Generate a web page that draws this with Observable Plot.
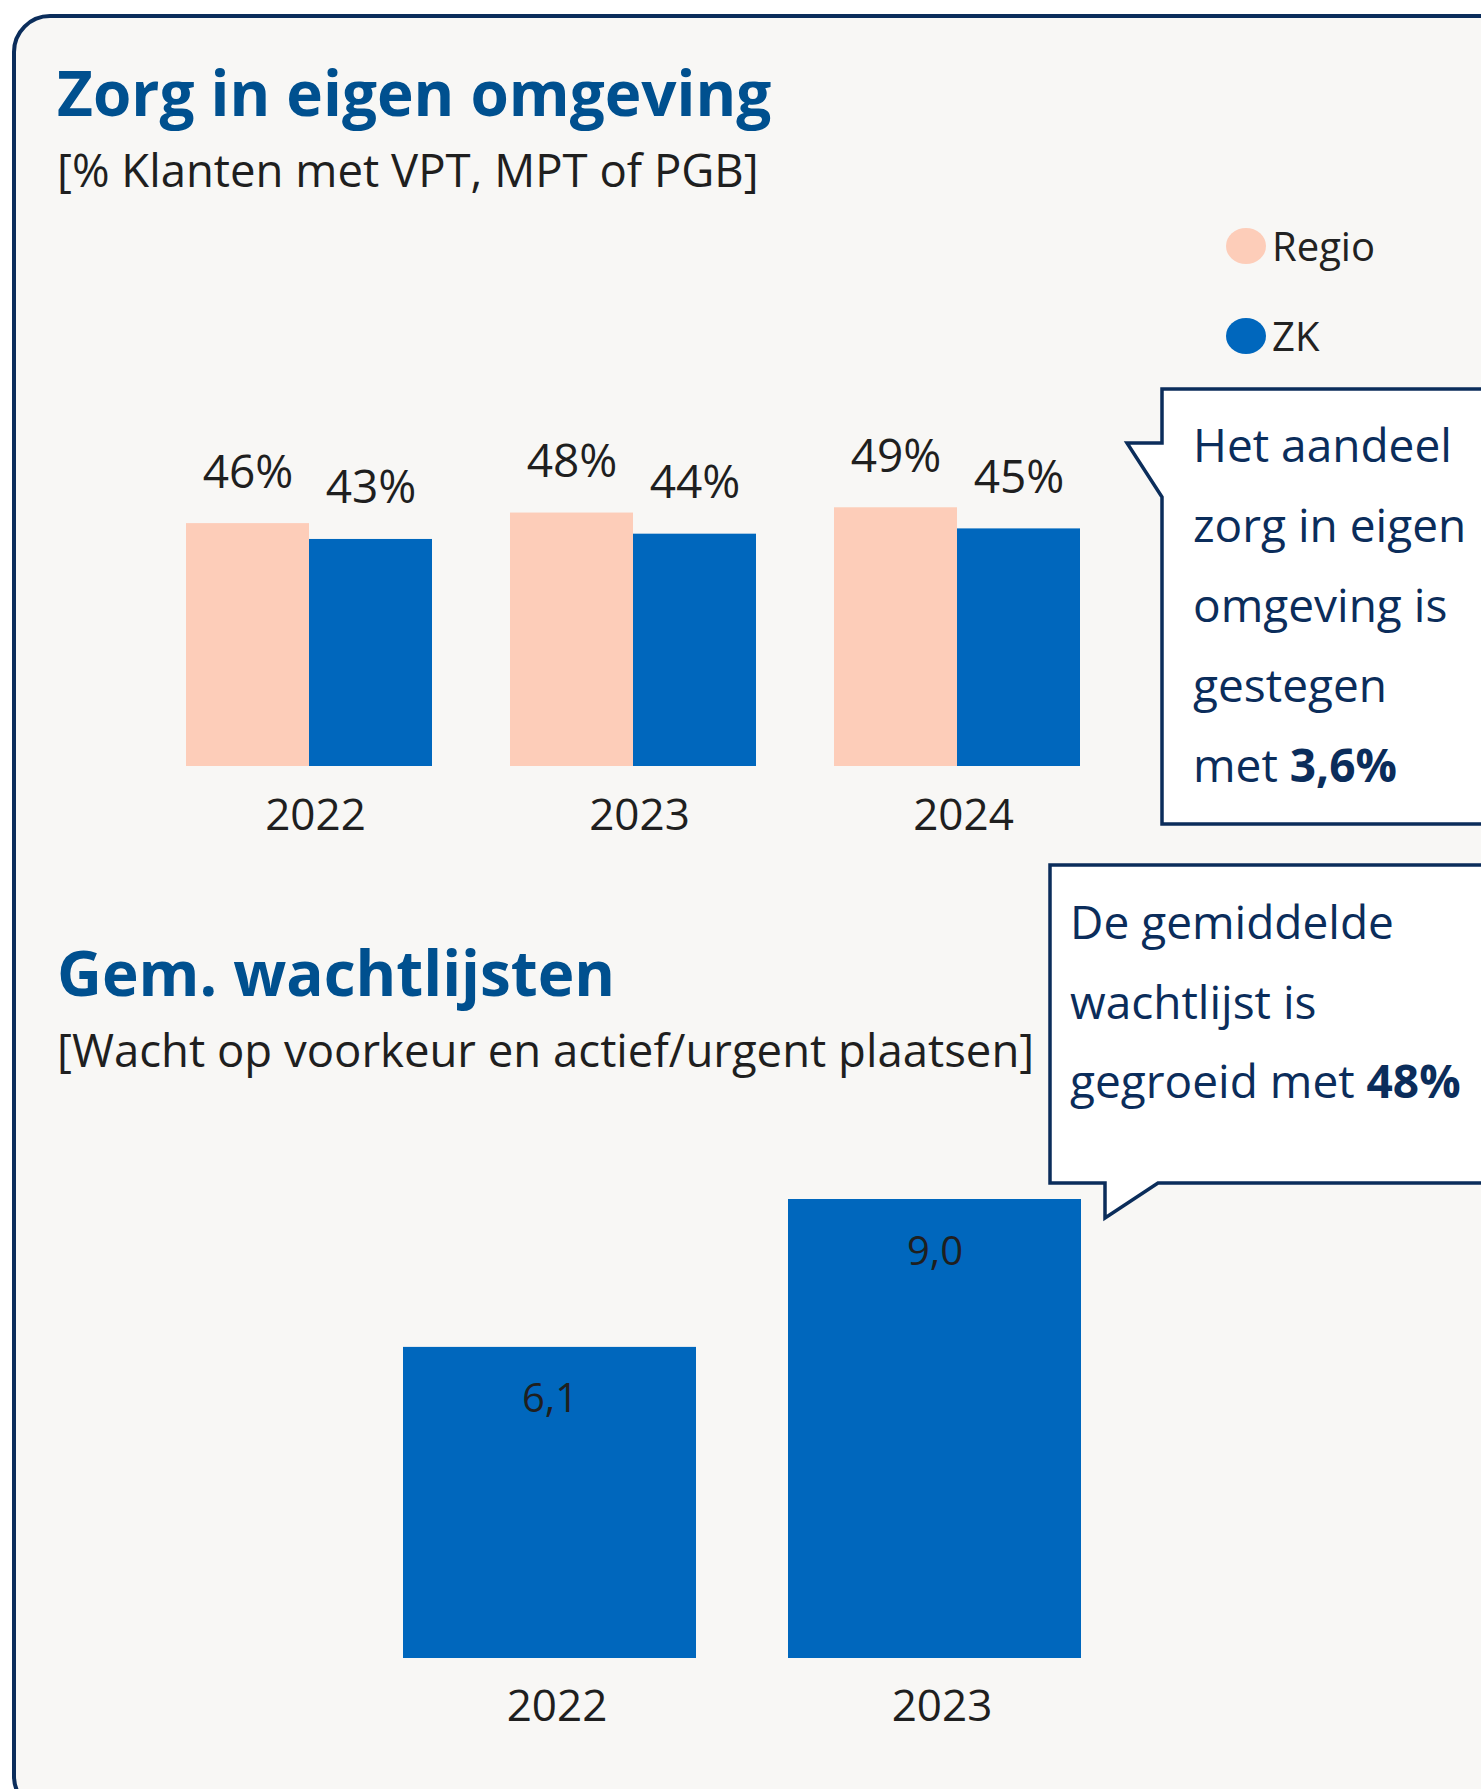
<!DOCTYPE html>
<html>
<head>
<meta charset="utf-8">
<script src="https://cdn.jsdelivr.net/npm/d3@7"></script>
<script src="https://cdn.jsdelivr.net/npm/@observablehq/plot@0.6"></script>
<style>
  html, body { margin: 0; padding: 0; background: #ffffff; }
  body { width: 1481px; height: 1789px; position: relative; overflow: hidden; font-family: "Open Sans", sans-serif; }
  #card { position: absolute; left: 12px; top: 14px; width: 1540px; height: 1800px; box-sizing: border-box;
          border: 4px solid #0b2d5b; border-radius: 38px; background: #f8f7f5; }
  .title { position: absolute; left: 57px; font-weight: 700; color: #00508f; font-size: 62px; line-height: 1; white-space: nowrap; }
  .sub { position: absolute; left: 57px; color: #1f1f1f; font-size: 45.5px; line-height: 1; white-space: nowrap; }
  .chart { position: absolute; }
  .legend { position: absolute; left: 1226px; font-size: 40px; color: #222; line-height: 1; }
  .legend div { position: absolute; white-space: nowrap; display: flex; align-items: center; }
  .legend span.dot { display: inline-block; width: 40px; height: 36px; border-radius: 50%; margin-right: 6px; }
  #overlay { position: absolute; left: 0; top: 0; }
</style>
</head>
<body>
<div id="card"></div>
<div class="title" id="t1" style="top:61px">Zorg in eigen omgeving</div>
<div class="sub" id="s1" style="top:147px">[% Klanten met VPT, MPT of PGB]</div>
<div class="title" id="t2" style="top:941px">Gem. wachtlijsten</div>
<div class="sub" id="s2" style="top:1027px">[Wacht op voorkeur en actief/urgent plaatsen]</div>
<div class="legend" id="legend"></div>
<div class="chart" id="c1" style="left:100px; top:400px"></div>
<div class="chart" id="c2" style="left:100px; top:1150px"></div>
<svg id="overlay" width="1481" height="1789"></svg>
<script>
// ---- data ----
const years1 = ["2022", "2023", "2024"];
const seriesNames = ["Regio", "ZK"];
const regioValues = [46, 48, 49];
const zkValues = [43, 44, 45];
const seriesColors = ["#fdcdb9", "#0067bd"];

const years2 = ["2022", "2023"];
const wachtValues = [6.1, 9.0];
const wachtLabels = ["6,1", "9,0"];

const callout1Lines = [["Het aandeel", ""], ["zorg in eigen", ""], ["omgeving is", ""], ["gestegen", ""], ["met ", "3,6%"]];
const callout2Lines = [["De gemiddelde", ""], ["wachtlijst is", ""], ["gegroeid met ", "48%"]];

// ---- chart 1 ----
const data1 = years1.flatMap((y, i) => [
  {year: y, series: seriesNames[0], value: regioValues[i]},
  {year: y, series: seriesNames[1], value: zkValues[i]}
]);

const chart1 = Plot.plot({
  width: 1100, height: 460,
  marginLeft: 47, marginRight: 81, marginTop: 49.2, marginBottom: 94,
  style: {fontFamily: "Open Sans", background: "transparent", overflow: "visible"},
  fx: {domain: years1, paddingInner: 0.2407, paddingOuter: 0.12035, label: null, axis: null},
  x: {domain: seriesNames, padding: 0, axis: null},
  y: {domain: [0, 60], axis: null},
  color: {domain: seriesNames, range: seriesColors},
  marks: [
    Plot.barY(data1, {fx: "year", x: "series", y: "value", fill: "series"}),
    Plot.text(data1, {fx: "year", x: "series", y: "value", text: d => d.value + "%", dy: -36, lineAnchor: "bottom", fontSize: 46, fill: "#1f1f1f"}),
    Plot.axisFx({anchor: "bottom", tickSize: 0, tickPadding: 32, dx: 6, fontSize: 44, label: null, fill: "#1f1f1f"})
  ]
});
document.getElementById("c1").append(chart1);

// ---- chart 2 ----
const data2 = years2.map((y, i) => ({year: y, value: wachtValues[i], label: wachtLabels[i]}));
const chart2 = Plot.plot({
  width: 1100, height: 600,
  marginLeft: 257, marginRight: 73, marginTop: 23.5, marginBottom: 92,
  style: {fontFamily: "Open Sans", background: "transparent", overflow: "visible"},
  x: {domain: years2, paddingInner: 0.239, paddingOuter: 0.1195, label: null, axis: null},
  y: {domain: [0, 9.5], axis: null},
  marks: [
    Plot.barY(data2, {x: "year", y: "value", fill: seriesColors[1]}),
    Plot.text(data2, {x: "year", y: "value", text: "label", dy: 65, lineAnchor: "bottom", fontSize: 40, fill: "#1f1f1f"}),
    Plot.axisX({anchor: "bottom", tickSize: 0, tickPadding: 31, dx: 7, fontSize: 44, label: null, fill: "#1f1f1f"})
  ]
});
document.getElementById("c2").append(chart2);

// ---- legend ----
const legend = document.getElementById("legend");
seriesNames.forEach((name, i) => {
  const row = document.createElement("div");
  row.style.top = (i === 0 ? 226 : 316) + "px";
  row.innerHTML = `<span class="dot" style="background:${seriesColors[i]}"></span><span>${name}</span>`;
  legend.append(row);
});

// ---- callouts ----
const svg = d3.select("#overlay");
const navy = "#0b2d5b";
svg.append("path")
  .attr("d", "M1500,389 L1162,389 L1162,443 L1127,443 L1162,497 L1162,824 L1500,824")
  .attr("fill", "#ffffff").attr("stroke", navy).attr("stroke-width", 3.5);
svg.append("path")
  .attr("d", "M1500,865 L1050,865 L1050,1183 L1105,1183 L1105,1218 L1158,1183 L1500,1183")
  .attr("fill", "#ffffff").attr("stroke", navy).attr("stroke-width", 3.5);

function writeLines(lines, x, y0, step) {
  lines.forEach((ln, i) => {
    const t = svg.append("text").attr("x", x).attr("y", y0 + i * step)
      .attr("font-family", "Open Sans").attr("font-size", 46).attr("fill", navy);
    t.append("tspan").text(ln[0]);
    if (ln[1]) t.append("tspan").attr("font-weight", 700).text(ln[1]);
  });
}
writeLines(callout1Lines, 1193, 462, 80);
writeLines(callout2Lines, 1070, 939, 79.5);
</script>
</body>
</html>
